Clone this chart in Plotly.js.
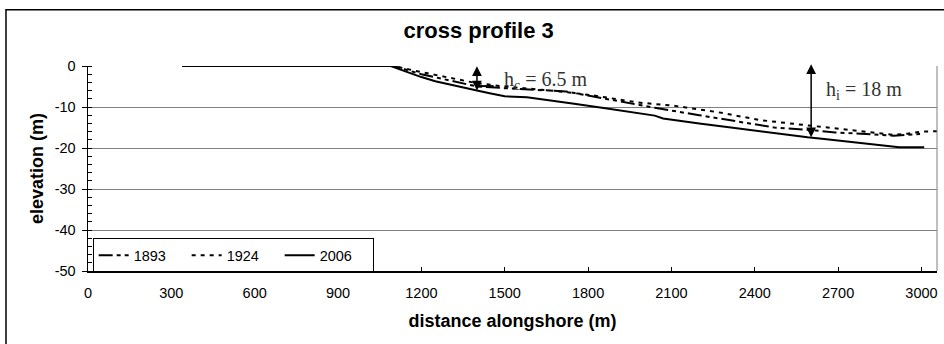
<!DOCTYPE html>
<html>
<head>
<meta charset="utf-8">
<script src="https://cdn.plot.ly/plotly-3.0.1.min.js"></script>
<style>html,body{margin:0;padding:0;background:#fff;}#chart{width:944px;height:344px;}</style>
</head>
<body>
<div id="chart"></div>
<script>
// Data
const x1893 = [340, 1100, 1200, 1300, 1400, 1500, 1600, 1720, 1800, 1900, 2040, 2200, 2350, 2470, 2600, 2690, 2800, 2900, 2995];
const y1893 = [0, 0, -2.0, -3.5, -5.0, -5.4, -5.7, -6.2, -7.2, -8.5, -10.2, -12.0, -13.7, -15.0, -15.6, -16.2, -16.6, -17.0, -16.6];
const x1924 = [340, 1100, 1200, 1300, 1400, 1500, 1600, 1700, 1820, 1900, 1980, 2110, 2270, 2420, 2600, 2700, 2800, 2900, 2950, 3000, 3060];
const y1924 = [0, 0, -1.5, -2.8, -4.2, -5.0, -5.6, -6.2, -7.2, -8.0, -8.9, -9.7, -11.3, -13.2, -14.5, -15.3, -16.1, -16.8, -16.5, -16.0, -15.9];
const x2006 = [340, 1090, 1150, 1200, 1250, 1300, 1350, 1400, 1450, 1500, 1580, 1650, 1750, 1850, 1950, 2040, 2070, 2110, 2200, 2300, 2400, 2500, 2590, 2650, 2750, 2850, 2920, 3010];
const y2006 = [0, 0, -1.5, -2.7, -3.7, -4.5, -5.3, -6.0, -6.7, -7.4, -7.6, -8.2, -9.2, -10.2, -11.2, -12.1, -12.8, -13.2, -14.0, -14.9, -15.8, -16.6, -17.4, -17.8, -18.6, -19.3, -19.8, -19.8];
const seriesNames = ['1893', '1924', '2006'];
const xTicks = [0, 300, 600, 900, 1200, 1500, 1800, 2100, 2400, 2700, 3000];
const yTicks = [0, -10, -20, -30, -40, -50];
const hcArrow = {x: 1400, top: 0.3, bottom: -6.0, label: 'h<sub>c</sub> = 6.5 m'};
const hiArrow = {x: 2603, top: 0.8, bottom: -17.4, label: 'h<sub>i</sub> = 18 m'};

const traces = [
  {x: x1893, y: y1893, name: seriesNames[0], mode: 'lines',
   line: {color: '#000', width: 2, dash: '14px,4px,4px,4px,4px,4px'}},
  {x: x1924, y: y1924, name: seriesNames[1], mode: 'lines',
   line: {color: '#000', width: 2, dash: '4px,5px'}},
  {x: x2006, y: y2006, name: seriesNames[2], mode: 'lines',
   line: {color: '#000', width: 2}}
];

const sans = 'Liberation Sans, Arial, sans-serif';
const serif = {family: 'Liberation Serif, DejaVu Serif, serif', size: 20, color: '#333'};
const layout = {
  width: 944, height: 344,
  margin: {l: 88, r: 7, t: 65.5, b: 73.3, pad: 0},
  paper_bgcolor: '#fff', plot_bgcolor: '#fff',
  font: {family: sans, size: 14.5, color: '#000'},
  title: {text: '<b>cross profile 3</b>', x: 0.507, xanchor: 'center', y: 0.912, yanchor: 'middle',
          font: {family: sans, size: 22, color: '#000'}},
  showlegend: true,
  legend: {orientation: 'h', x: 0.0055, xanchor: 'left', y: 0.159, yanchor: 'top',
           bgcolor: '#fff', bordercolor: '#000', borderwidth: 1,
           font: {family: sans, size: 14.5, color: '#000'},
           itemwidth: 30, tracegroupgap: 0, entrywidth: 48, entrywidthmode: 'pixels'},
  xaxis: {range: [0, 3056], tickvals: xTicks, ticktext: xTicks.map(String),
          showgrid: false, zeroline: false, showline: true, linecolor: '#000', linewidth: 1.5,
          ticks: 'inside', ticklen: 4, tickcolor: '#000', tickwidth: 1,
          tickfont: {size: 14.5}, ticklabelstandoff: 8,
          title: {text: '<b>distance alongshore (m)</b>', font: {size: 18}, standoff: 14}},
  yaxis: {range: [-50, 0], tickvals: yTicks, ticktext: yTicks.map(String),
          showgrid: true, gridcolor: '#808080', gridwidth: 1, zeroline: false,
          showline: true, linecolor: '#000', linewidth: 1.5,
          ticks: 'outside', ticklen: 5, tickcolor: '#000', tickwidth: 1,
          tickfont: {size: 14.5}, ticklabelstandoff: 3,
          minor: {dtick: 2, ticks: 'inside', ticklen: 4, tickcolor: '#000', showgrid: false},
          title: {text: '<b>elevation (m)</b>', font: {size: 18}, standoff: 6}},
  shapes: [
    {type: 'line', xref: 'paper', yref: 'paper', x0: 1, x1: 1, y0: 0, y1: 1, line: {color: '#808080', width: 1}},
    {type: 'rect', xref: 'paper', yref: 'paper', x0: -0.0966, x1: 1.1, y0: -0.5, y1: 1.275, line: {color: '#000', width: 1.5}},
    {type: 'line', xref: 'x', yref: 'y', x0: hcArrow.x, x1: hcArrow.x + 60, y0: -4.9, y1: -4.9, line: {color: '#000', width: 2}}
  ],
  annotations: [
    {x: hcArrow.x, y: hcArrow.bottom, ax: hcArrow.x, ay: hcArrow.top, xref: 'x', yref: 'y', axref: 'x', ayref: 'y',
     text: '', showarrow: true, arrowhead: 2, startarrowhead: 2, arrowside: 'end+start', arrowsize: 1.3, startarrowsize: 1.3, arrowwidth: 1.5, arrowcolor: '#000'},
    {x: hiArrow.x, y: hiArrow.bottom, ax: hiArrow.x, ay: hiArrow.top, xref: 'x', yref: 'y', axref: 'x', ayref: 'y',
     text: '', showarrow: true, arrowhead: 2, startarrowhead: 2, arrowside: 'end+start', arrowsize: 1.3, startarrowsize: 1.3, arrowwidth: 1.5, arrowcolor: '#000'},
    {x: 1490, y: -3.5, xref: 'x', yref: 'y', xanchor: 'left', yanchor: 'middle', text: hcArrow.label, showarrow: false, font: serif},
    {x: 2650, y: -6.0, xref: 'x', yref: 'y', xanchor: 'left', yanchor: 'middle', text: hiArrow.label, showarrow: false, font: serif}
  ]
};

Plotly.newPlot('chart', traces, layout, {displayModeBar: false, staticPlot: true});
</script>
</body>
</html>
